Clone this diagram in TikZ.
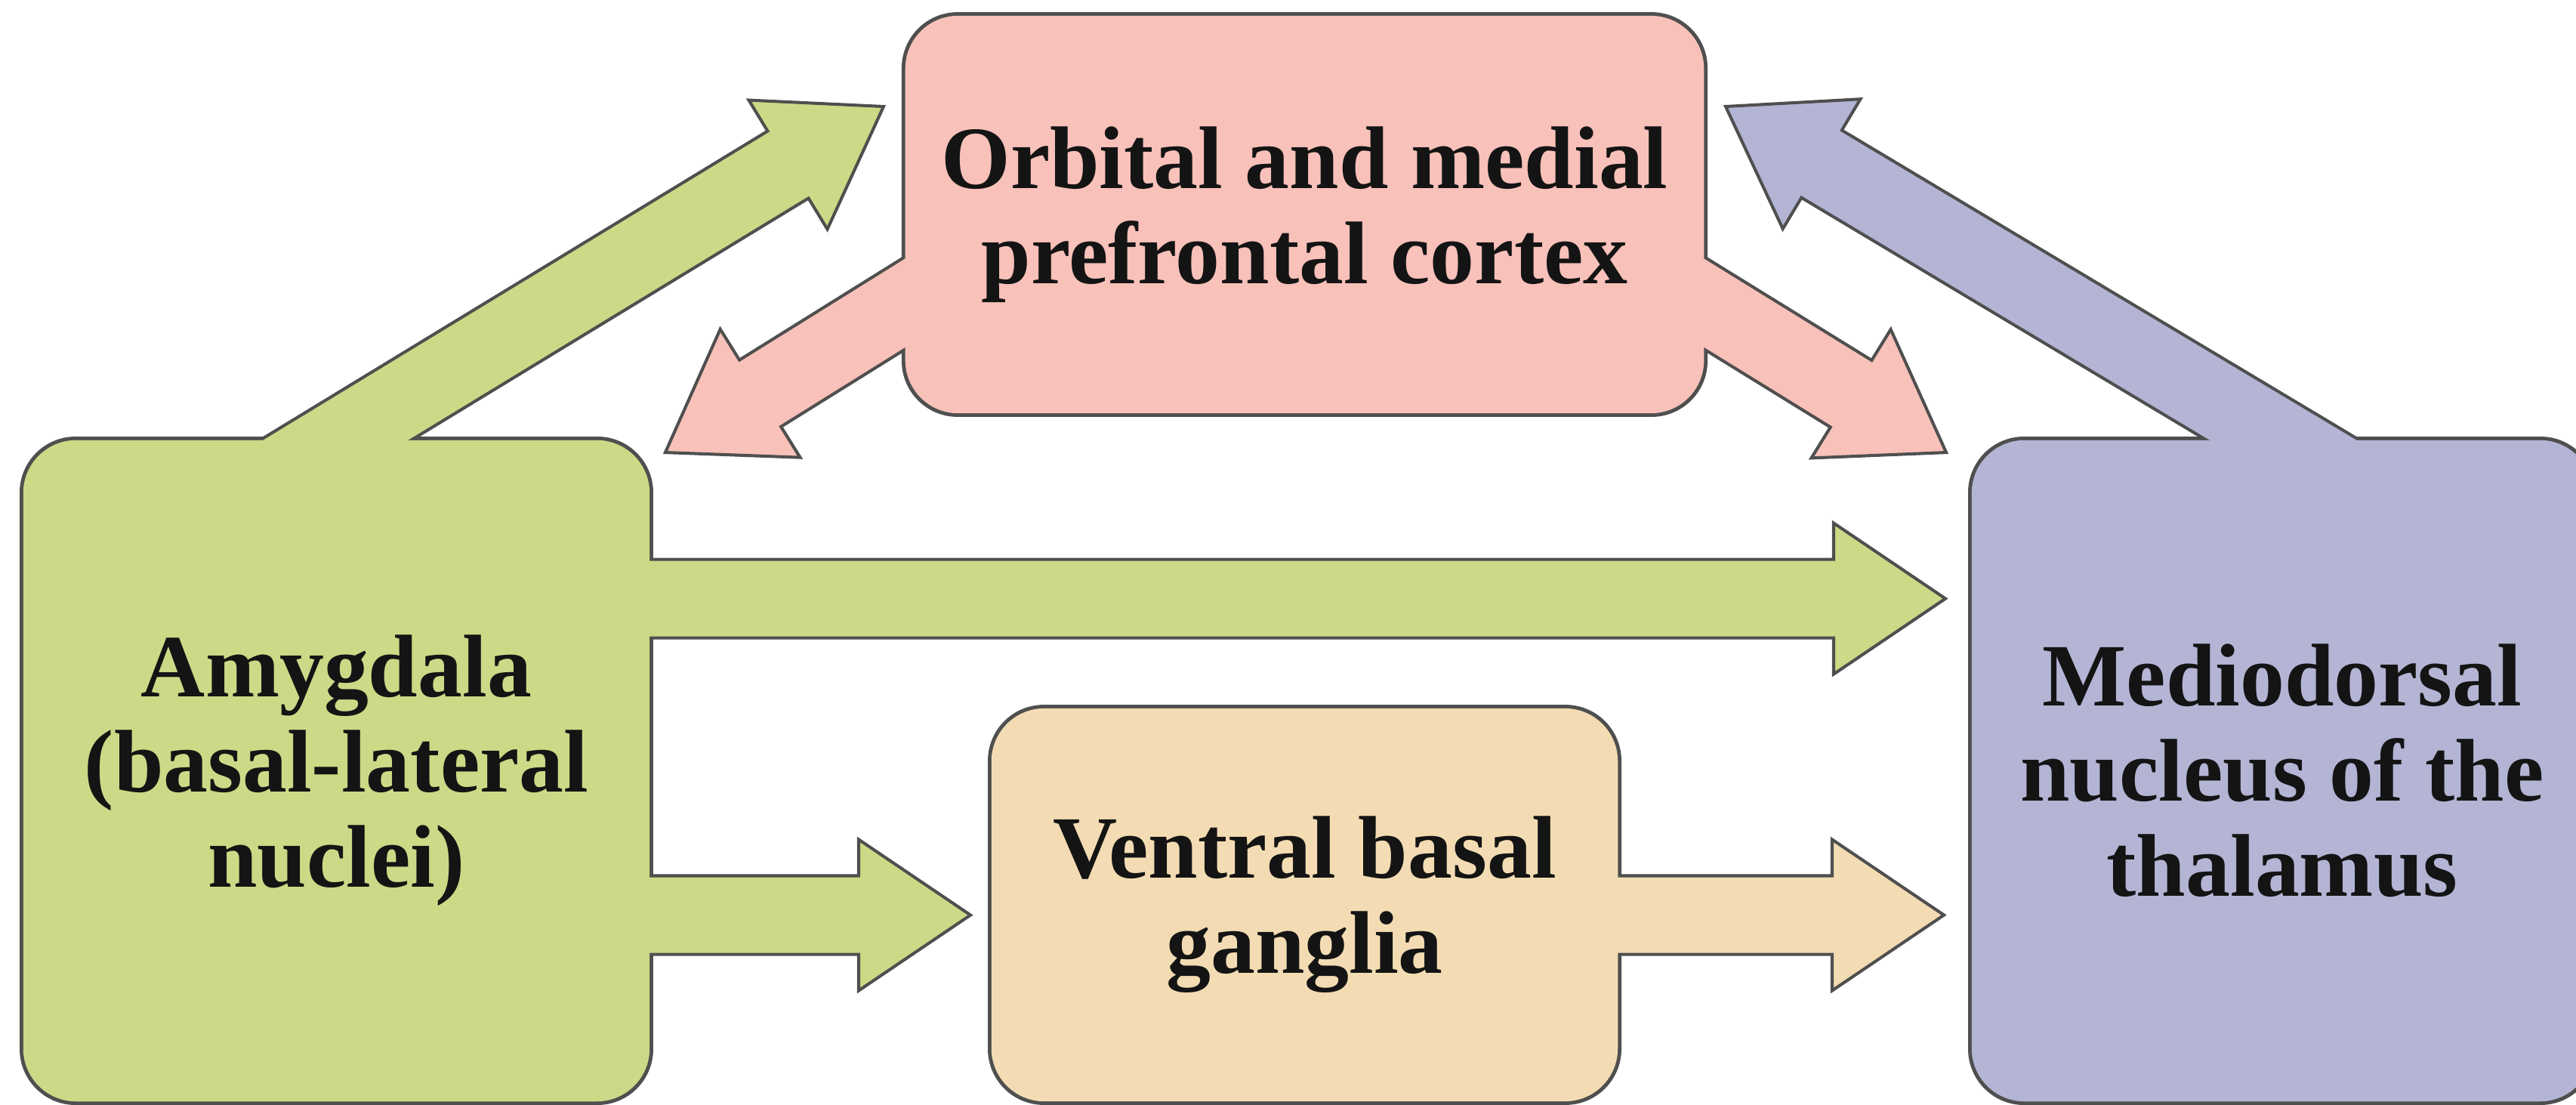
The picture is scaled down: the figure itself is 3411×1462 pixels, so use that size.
\documentclass[tikz,border=0pt]{standalone}
\usepackage{fontspec}
\setmainfont{Liberation Serif}
\usetikzlibrary{calc}

\pgfdeclarelayer{outline}
\pgfdeclarelayer{flow}
\pgfsetlayers{outline,flow,main}

\definecolor{amygfill}{HTML}{CDD986}
\definecolor{ofcfill}{HTML}{F8C1B9}
\definecolor{vbgfill}{HTML}{F3DCB3}
\definecolor{mdfill}{HTML}{B4B5D5}
\definecolor{edgegray}{HTML}{4F4F4F}

\tikzset{
  region/.style={rounded corners=0.7cm, inner sep=0pt, align=center, text=black!92,
    font=\fontsize{33.5}{35.8}\selectfont\bfseries},
  regionline/.style={draw=edgegray, line width=2.3pt, rounded corners=0.7cm},
  flowline/.style={draw=edgegray, line width=1.15pt, line join=miter},
}

% block arrow: #1 fill, #2 point on the source edge, #3 tip
\newcommand{\blockarrow}[3]{%
  \coordinate (tail) at ($(#2)!-\tuckin cm!(#3)$);
  \coordinate (neck) at ($(#3)!\headlen cm!(#2)$);
  \filldraw[flowline, fill=#1] ($(tail)!\shaftw cm!90:(#3)$) -- ($(neck)!\shaftw cm!90:(#3)$)
    -- ($(neck)!\headw cm!90:(#3)$) -- (#3) -- ($(neck)!\headw cm!-90:(#3)$)
    -- ($(neck)!\shaftw cm!-90:(#3)$) -- ($(tail)!\shaftw cm!-90:(#3)$) -- cycle;
}

\begin{document}
\begin{tikzpicture}[x=0.01cm,y=-0.01cm]
    \pgfmathsetmacro{\shaftw}{0.52}
    \pgfmathsetmacro{\headw}{1.0}
    \pgfmathsetmacro{\headlen}{1.48}
    \pgfmathsetmacro{\tuckin}{1.0}
    \useasboundingbox (0,0) rectangle (3411,1462);

    % regions
    \node[region, fill=amygfill, minimum width=8.29cm, minimum height=8.75cm] (amyg) at (445.5,1020.5)
        {Amygdala\\(basal-lateral\\nuclei)};
    \node[region, fill=ofcfill, minimum width=10.57cm, minimum height=5.26cm] (ofc) at (1727.5,284)
        {Orbital and medial\\prefrontal cortex};
    \node[region, fill=vbgfill, minimum width=8.29cm, minimum height=5.20cm] (vbg) at (1727.5,1198)
        {Ventral basal\\ganglia};
    \node[region, fill=mdfill, minimum width=8.22cm, minimum height=8.75cm] (md) at (3022,1020.5)
        {Mediodorsal\\nucleus of the\\thalamus};

    \begin{pgfonlayer}{outline}
    \foreach \r in {amyg,ofc,vbg,md}
        \draw[regionline] (\r.south west) rectangle (\r.north east);
    \end{pgfonlayer}

    % arrow tips and edge points
    \coordinate (amyg2ofc) at ($(ofc.west)+(-28,-143)$);
    \coordinate (md2ofc) at ($(ofc.east)+(28,-143)$);
    \coordinate (ofc2amyg) at ($(amyg.north east)+(20,17)$);
    \coordinate (ofc2md) at ($(md.north west)+(-33,17)$);
    \coordinate (amyg2md) at ($(md.north west)+(-34,210.5)$);
    \coordinate (amyg2vbg) at ($(vbg.west)+(-27,13.5)$);
    \coordinate (vbg2md) at ($(md.west |- amyg2vbg)+(-36,0)$);
    \coordinate (ofcL) at ($(ofc.west)+(0,117.5)$);
    \coordinate (ofcR) at ($(ofc.east)+(0,117.5)$);
    \coordinate (amygE1) at (amyg.east |- amyg2md);
    \coordinate (amygE2) at (amyg.east |- amyg2vbg);
    \coordinate (vbgE) at (vbg.east |- vbg2md);

    \begin{pgfonlayer}{flow}
    \blockarrow{amygfill}{amyg.north}{amyg2ofc}
    \blockarrow{mdfill}{md.north}{md2ofc}
    \blockarrow{ofcfill}{ofcL}{ofc2amyg}
    \blockarrow{ofcfill}{ofcR}{ofc2md}
    \blockarrow{amygfill}{amygE1}{amyg2md}
    \blockarrow{amygfill}{amygE2}{amyg2vbg}
    \blockarrow{vbgfill}{vbgE}{vbg2md}
    \end{pgfonlayer}
\end{tikzpicture}
\end{document}
